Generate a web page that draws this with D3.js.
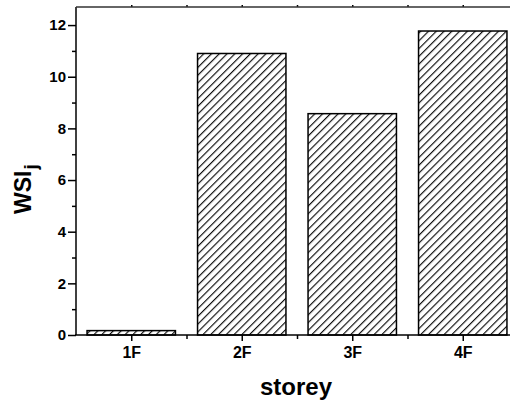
<!DOCTYPE html>
<html>
<head>
<meta charset="utf-8">
<script src="https://cdn.jsdelivr.net/npm/d3@7/dist/d3.min.js"></script>
<style>
  html, body { margin: 0; padding: 0; background: #fff; }
  svg { display: block; }
  text { font-family: Arial, "Liberation Sans", sans-serif; font-weight: bold; fill: #000; }
</style>
</head>
<body>
<svg id="chart" width="510" height="407"></svg>
<script>
// Wind-storey index per floor
const storeys = ["1F", "2F", "3F", "4F"];
const wsiValues = [0.17, 10.9, 8.57, 11.77];
const yTicks = [0, 2, 4, 6, 8, 10, 12];
const yMinorTicks = [1, 3, 5, 7, 9, 11];
const xLabel = "storey";
const yLabel = "WSI";
const yLabelSub = "j";

const svg = d3.select("#chart");
const plotL = 76, plotR = 518, plotT = 7, plotB = 335;

// categories sit at integer positions 1..4, plot spans 0.5..4.5
const x = d3.scaleLinear().domain([0.5, 4.5]).range([plotL, plotR]);
const y = d3.scaleLinear().domain([0, 12.7]).range([plotB, plotT]);
const barW = x(1.4) - x(0.6);

// diagonal hatch fill
svg.append("defs").append("pattern")
  .attr("id", "hatch")
  .attr("patternUnits", "userSpaceOnUse")
  .attr("width", 5.5).attr("height", 5.5)
  .attr("patternTransform", "rotate(45)")
  .append("line")
  .attr("x1", 0.6).attr("y1", 0).attr("x2", 0.6).attr("y2", 5.5)
  .attr("stroke", "#000").attr("stroke-width", 1.1);

// bars
svg.append("g").selectAll("rect")
  .data(wsiValues)
  .join("rect")
  .attr("x", (d, i) => x(i + 1) - barW / 2)
  .attr("y", d => y(d))
  .attr("width", barW)
  .attr("height", d => y(0) - y(d))
  .attr("fill", "url(#hatch)")
  .attr("stroke", "#000")
  .attr("stroke-width", 1.5);

// left axis: labelled major ticks, short minor ticks
const yAxis = svg.append("g").attr("transform", `translate(${plotL},0)`)
  .call(d3.axisLeft(y).tickValues(yTicks).tickSize(8).tickPadding(2).tickFormat(d3.format("d")));
yAxis.selectAll("text").attr("font-size", null).style("font-size", "15px");
svg.append("g").attr("transform", `translate(${plotL},0)`)
  .call(d3.axisLeft(y).tickValues(yMinorTicks).tickSize(4).tickFormat(""));

// bottom axis
const xAxis = svg.append("g").attr("transform", `translate(0,${plotB})`)
  .call(d3.axisBottom(x).tickValues([1, 2, 3, 4]).tickSize(6).tickPadding(6)
    .tickFormat((d, i) => storeys[i]));
xAxis.selectAll("text").attr("font-size", null).style("font-size", "16px");
svg.append("g").attr("transform", `translate(0,${plotB})`)
  .call(d3.axisBottom(x).tickValues([1.5, 2.5, 3.5]).tickSize(4).tickFormat(""));

// top axis: small ticks only
svg.append("g").attr("transform", `translate(0,${plotT})`)
  .call(d3.axisTop(x).tickValues([1, 1.5, 2, 2.5, 3, 3.5, 4]).tickSize(2).tickFormat(""));

svg.selectAll(".domain").remove();
svg.selectAll(".tick line").attr("stroke", "#000").attr("stroke-width", 1.5);

// frame lines
svg.append("line").attr("x1", plotL).attr("x2", plotL).attr("y1", plotT).attr("y2", plotB)
  .attr("stroke", "#000").attr("stroke-width", 1.5);
svg.append("line").attr("x1", plotL - 1).attr("x2", plotR).attr("y1", plotB).attr("y2", plotB)
  .attr("stroke", "#000").attr("stroke-width", 1.5);
svg.append("line").attr("x1", plotL).attr("x2", plotR).attr("y1", plotT).attr("y2", plotT)
  .attr("stroke", "#333").attr("stroke-width", 1.5);

// axis titles
svg.append("text")
  .attr("x", 296).attr("y", 395)
  .attr("text-anchor", "middle")
  .style("font-size", "24px")
  .text(xLabel);

const yt = svg.append("text")
  .attr("transform", "translate(31,214) rotate(-90)")
  .attr("text-anchor", "start")
  .style("font-size", "23px");
yt.append("tspan").text(yLabel);
yt.append("tspan").attr("dx", 1).attr("dy", 6).style("font-size", "19px").text(yLabelSub);
</script>
</body>
</html>
